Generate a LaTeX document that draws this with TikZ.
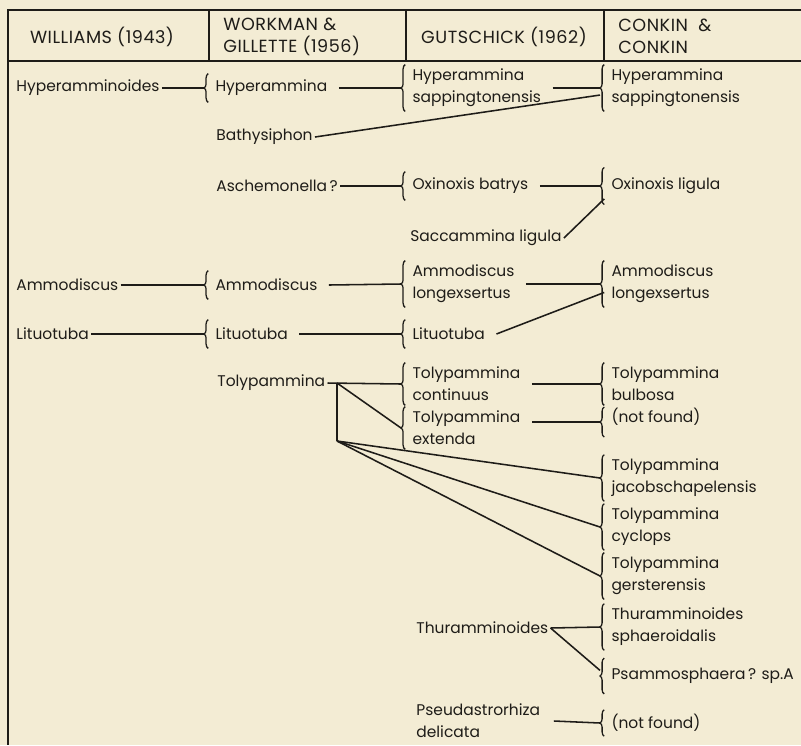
\documentclass[tikz,border=0pt]{standalone}
\usepackage{fontspec}
\setmainfont{Poppins}
\usetikzlibrary{positioning}
\usetikzlibrary{decorations.pathreplacing}

\definecolor{paper}{RGB}{243,236,212}
\definecolor{ink}{RGB}{30,28,24}

\tikzset{
  taxon/.style={anchor=west, align=left, inner xsep=1.5pt, inner ysep=0pt,
    text=ink, font=\fontsize{11}{15.5}\selectfont},
  head/.style={taxon, font=\fontsize{12.5}{15.5}\selectfont\addfontfeatures{LetterSpace=3}},
  braced/.style={taxon, inner xsep=8pt, inner ysep=3pt, minimum height=20pt},
  brc/.style={decorate, decoration={brace, amplitude=3pt}},
  link/.style={draw=ink, line width=1.1pt},
}

\begin{document}
\begin{tikzpicture}[x=0.025cm, y=-0.025cm]
 \fill[paper] (0,0) rectangle (801,745);
 \useasboundingbox (0,0) rectangle (801,745);

 % frame and heading row
 \draw[link, line width=0.9pt] (801,10) -- (8,10) -- (8,745);
 \draw[link, line width=1.6pt] (8,61) -- (801,61);
 \foreach \x in {209,406,604} \draw[link, line width=0.9pt] (\x,10) -- (\x,61);

 \node[head, anchor=center] (h1) at (102,37) {WILLIAMS (1943)};
 \node[head] (h2) at (221,37) {WORKMAN \&\\GILLETTE (1956)};
 \node[head, anchor=center] (h3) at (504,37) {GUTSCHICK (1962)};
 \node[head] (h4) at (616,36) {CONKIN~~\&\\CONKIN};

 % Williams
 \node[taxon] (wHyp) at (14,88) {Hyperamminoides};
 \node[taxon] (wAmm) at (14,285) {Ammodiscus};
 \node[taxon] (wLit) at (14,334) {Lituotuba};

 % Workman & Gillette
 \node[braced] (gHyp) at (204,88) {Hyperammina};
 \node[taxon] (gBat) at (214,137) {Bathysiphon};
 \node[taxon] (gAsc) at (214,186) {Aschemonella\,?};
 \node[braced] (gAmm) at (204,285) {Ammodiscus};
 \node[braced] (gLit) at (204,334) {Lituotuba};
 \node[taxon] (gTol) at (215,383) {Tolypammina};

 % Gutschick
 \node[braced] (tHyp) at (401,88) {Hyperammina\\sappingtonensis};
 \node[braced] (tOxi) at (401,186) {Oxinoxis batrys};
 \node[taxon] (tSac) at (408,238) {Saccammina ligula};
 \node[braced] (tAmm) at (401,284) {Ammodiscus\\longexsertus};
 \node[braced] (tLit) at (401,334) {Lituotuba};
 \node[braced] (tCon) at (401,384) {Tolypammina\\continuus};
 \node[braced] (tExt) at (401,428) {Tolypammina\\extenda};
 \node[taxon] (tThu) at (414,628) {Thuramminoides};
 \node[taxon] (tPse) at (414,721) {Pseudastrorhiza\\delicata};

 % Conkin & Conkin
 \node[braced] (cHyp) at (600,88) {Hyperammina\\sappingtonensis};
 \node[braced, minimum height=26pt] (cOxi) at (600,186) {Oxinoxis ligula};
 \node[braced] (cAmm) at (600,284) {Ammodiscus\\longexsertus};
 \node[braced] (cBul) at (600,384) {Tolypammina\\bulbosa};
 \node[braced, minimum height=0pt, text height=8pt, text depth=7pt] (cNf1) at (600,422) {(not found)};
 \node[braced] (cJac) at (600,478) {Tolypammina\\jacobschapelensis};
 \node[braced] (cCyc) at (600,527) {Tolypammina\\cyclops};
 \node[braced] (cGer) at (600,576) {Tolypammina\\gersterensis};
 \node[braced] (cSph) at (600,627) {Thuramminoides\\sphaeroidalis};
 \node[braced, minimum height=25pt] (cPsa) at (600,676) {Psammosphaera\,? sp.A};
 \node[braced, minimum height=18pt] (cNf2) at (600,723) {(not found)};

 \foreach \n in {gHyp,gAmm,gLit,tHyp,tOxi,tAmm,tLit,tCon,tExt,cHyp,cOxi,cAmm,
   cBul,cNf1,cJac,cCyc,cGer,cSph,cPsa,cNf2}
   \draw[link, line width=0.9pt, brc] ([xshift=3pt]\n.south west) -- ([xshift=3pt]\n.north west);

 % links
 \draw[link] (wHyp.east) -- (gHyp.west);
 \draw[link] (gHyp.east) -- (tHyp.west);
 \draw[link] (tHyp.east) -- (cHyp.west);
 \draw[link] (gBat.east) -- ([yshift=-5pt]cHyp.west);

 \draw[link] (gAsc.east) -- (tOxi.west);
 \draw[link] (tOxi.east) -- (cOxi.west);
 \draw[link] (tSac.east) -- ([xshift=3pt,yshift=4pt]cOxi.south west);

 \draw[link] (wAmm.east) -- (gAmm.west);
 \draw[link] (gAmm.east) -- (tAmm.west);
 \draw[link] (tAmm.east) -- (cAmm.west);
 \draw[link] (wLit.east) -- (gLit.west);
 \draw[link] (gLit.east) -- (tLit.west);
 \draw[link] (tLit.east) -- ([xshift=3pt,yshift=-6pt]cAmm.west);

 \coordinate (tolA) at (337,383);
 \coordinate (tolB) at (337,441);
 \draw[link] (gTol.east) -- (tCon.west);
 \draw[link] (tolA) -- (tolB);
 \draw[link] (tolA) -- (tExt.west);
 \foreach \n in {cJac,cCyc,cGer} \draw[link] (tolB) -- (\n.west);
 \draw[link] (tCon.east) -- (cBul.west);
 \draw[link] (cNf1.west) -- (cNf1.west -| tExt.east);

 \draw[link] (tThu.east) -- (cSph.west);
 \draw[link] (tThu.east) -- ([yshift=4pt]cPsa.west);
 \draw[link] ([xshift=8pt]tPse.east) -- (cNf2.west);
\end{tikzpicture}
\end{document}
